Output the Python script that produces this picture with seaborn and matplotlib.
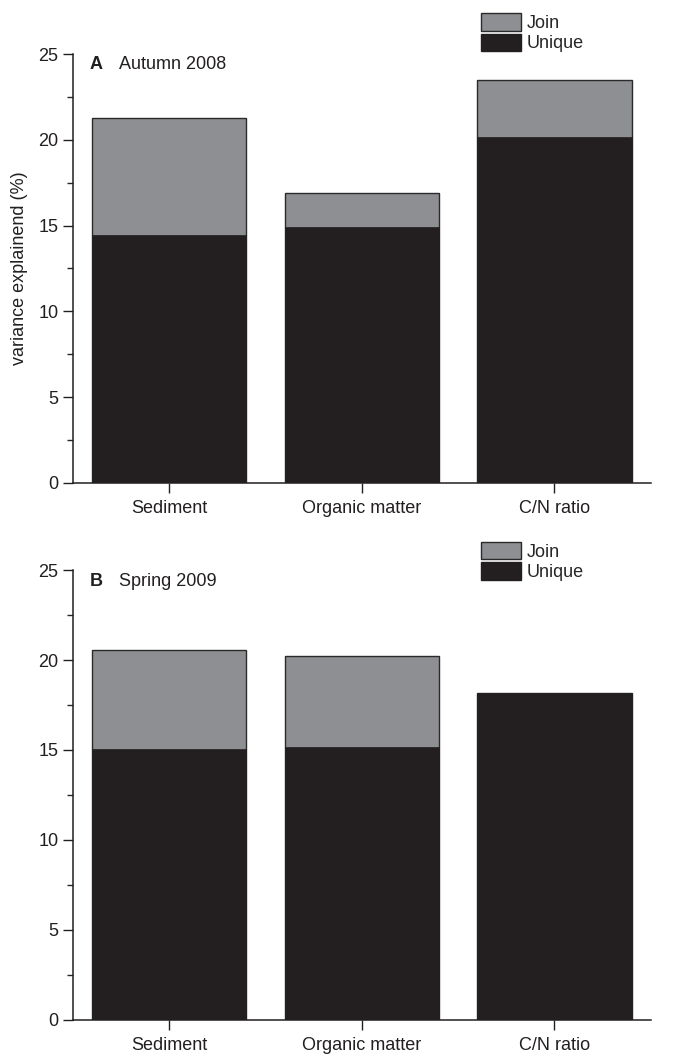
import matplotlib
matplotlib.use("Agg")
import matplotlib.pyplot as plt
from matplotlib.patches import Patch
from matplotlib.ticker import MultipleLocator
import seaborn as sns

categories = ["Sediment", "Organic matter", "C/N ratio"]
autumn_unique = [14.45, 14.92, 20.16]
autumn_join = [6.82, 1.98, 3.32]
spring_unique = [15.06, 15.17, 18.17]
spring_join = [5.50, 5.03, 0.0]
panel_letters = ["A", "B"]
panel_titles = ["Autumn 2008", "Spring 2009"]
legend_labels = ["Join", "Unique"]
ylabel = "variance explainend (%)"

JOIN_C = "#8e8f92"
UNIQ_C = "#231f20"

sns.set_style("ticks")
plt.rcParams["font.family"] = ["Liberation Sans", "DejaVu Sans"]
plt.rcParams["font.size"] = 13

fig = plt.figure(figsize=(6.73, 10.55), dpi=100)
ax_top = fig.add_axes([0.1085, 0.5422, 0.8585, 0.4066])
ax_bot = fig.add_axes([0.1085, 0.0332, 0.8585, 0.4265])

panels = [
    (ax_top, autumn_unique, autumn_join),
    (ax_bot, spring_unique, spring_join),
]

for i, (ax, uniq, join) in enumerate(panels):
    total = [u + j for u, j in zip(uniq, join)]
    sns.barplot(x=categories, y=total, color=JOIN_C, width=0.8, ax=ax,
                edgecolor="#2a2a2a", linewidth=1.0, saturation=1)
    sns.barplot(x=categories, y=uniq, color=UNIQ_C, width=0.8, ax=ax,
                edgecolor=UNIQ_C, linewidth=0.5, saturation=1)
    ax.set_xlim(-0.5, 2.5)
    ax.set_ylim(0, 25)
    ax.yaxis.set_major_locator(MultipleLocator(5))
    ax.yaxis.set_minor_locator(MultipleLocator(2.5))
    ax.tick_params(axis="y", which="major", length=7, width=1, labelsize=13, colors="#231f20")
    ax.tick_params(axis="y", which="minor", length=4, width=1)
    ax.tick_params(axis="x", which="major", length=7, width=1, labelsize=13, pad=5, colors="#231f20")
    for s in ["top", "right"]:
        ax.spines[s].set_visible(False)
    for s in ["left", "bottom"]:
        ax.spines[s].set_linewidth(1.1)
        ax.spines[s].set_color("#231f20")
    ax.set_xlabel("")
    ax.set_ylabel("")
    ax.text(0.029, 0.975, panel_letters[i], transform=ax.transAxes,
            fontsize=13, fontweight="bold", va="center", ha="left", color="#231f20")
    ax.text(0.08, 0.975, panel_titles[i], transform=ax.transAxes,
            fontsize=13, va="center", ha="left", color="#231f20")
    handles = [Patch(facecolor=JOIN_C, edgecolor="#2a2a2a", linewidth=1.0),
               Patch(facecolor=UNIQ_C, edgecolor=UNIQ_C)]
    ax.legend(handles, legend_labels, loc="upper left",
              bbox_to_anchor=(0.706, 1.095 if i == 0 else 1.062),
              frameon=False, handlelength=2.2, handleheight=1.1,
              labelspacing=0.08, handletextpad=0.35, borderpad=0, borderaxespad=0,
              fontsize=13)

ax_top.set_ylabel(ylabel, fontsize=13, color="#231f20")
ax_top.yaxis.set_label_coords(-0.078, 0.5)

fig.savefig("out.png", dpi=100)
